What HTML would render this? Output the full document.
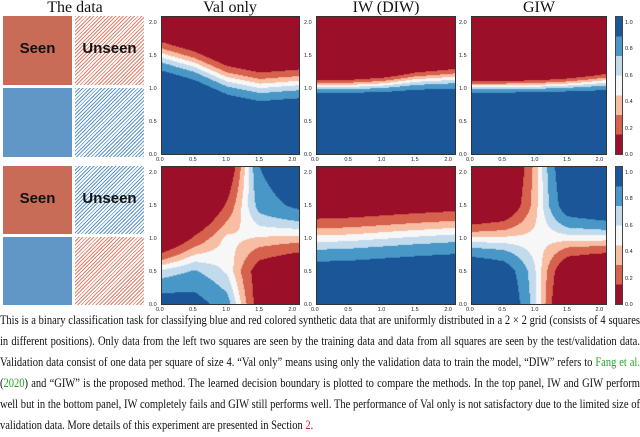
<!DOCTYPE html>
<html><head><meta charset="utf-8">
<style>
body{margin:0;width:640px;height:437px;background:#fff;position:relative;overflow:hidden;font-family:"Liberation Serif",serif}
.title{position:absolute;font-size:16px;line-height:16px;text-align:center;width:150px;top:0px;color:#111}
.sq{position:absolute;width:69px;height:69px;box-sizing:border-box}
.seen{background:#c96c57}
.bl{background:#6097c6}
.hr{background:repeating-linear-gradient(135deg,#e0806d 0 1px,#fff 1px 2.6px)}
.hb{background:repeating-linear-gradient(135deg,#5f96c8 0 1px,#fff 1px 2.6px)}
.lbl{position:absolute;width:100%;top:24px;text-align:center;font-family:"Liberation Sans",sans-serif;font-weight:bold;font-size:15px;color:#111}
canvas{position:absolute;border:1px solid #333;box-sizing:border-box}
.tk{position:absolute;font-family:"Liberation Sans",sans-serif;font-size:5.5px;color:#222;line-height:6px}
.cb{position:absolute;width:8px;border:1px solid #444;box-sizing:border-box}
#cap{position:absolute;left:0;top:310px;width:742px;font-size:12.2px;line-height:21px;text-align:justify;color:#111;transform:scaleX(0.8625);transform-origin:0 0}
.g{color:#2ca02c}.r{color:#d62728}
</style></head><body>
<div class="title" style="left:0">The data</div>
<div class="title" style="left:155px">Val only</div>
<div class="title" style="left:311px">IW (DIW)</div>
<div class="title" style="left:464px">GIW</div>

<div class="sq seen" style="left:3px;top:16px"><div class="lbl">Seen</div></div>
<div class="sq hr" style="left:75px;top:16px"><div class="lbl">Unseen</div></div>
<div class="sq bl" style="left:3px;top:88px"></div>
<div class="sq hb" style="left:75px;top:88px"></div>

<div class="sq seen" style="left:3px;top:166px;height:68px"><div class="lbl">Seen</div></div>
<div class="sq hb" style="left:75px;top:166px;height:68px"><div class="lbl">Unseen</div></div>
<div class="sq bl" style="left:3px;top:237px;height:68px"></div>
<div class="sq hr" style="left:75px;top:237px;height:68px"></div>

<div id="plots"></div>

<div id="cap">This is a binary classification task for classifying blue and red colored synthetic data that are uniformly distributed in a 2 × 2 grid (consists of 4 squares in different positions). Only data from the left two squares are seen by the training data and data from all squares are seen by the test/validation data. Validation data consist of one data per square of size 4. “Val only” means using only the validation data to train the model, “DIW” refers to <span class="g">Fang et al.</span> (<span class="g">2020</span>) and “GIW” is the proposed method. The learned decision boundary is plotted to compare the methods. In the top panel, IW and GIW perform well but in the bottom panel, IW completely fails and GIW still performs well. The performance of Val only is not satisfactory due to the limited size of validation data. More details of this experiment are presented in Section <span class="r">2</span>.</div>

<script>
// grid coordinates (data units)
const gridX = [0, 0.5, 1, 1.5, 2.1];
const gridY = [0, 0.5, 1, 1.5, 2.1];
// logit of P(blue); rows indexed by x, columns by y
const topVal = [[13.7,9.2,4.7,0.2,-5.2],[12.4,7.9,3.4,-1.1,-6.5],[10.4,5.9,1.4,-3.1,-8.6],[9.5,5.0,0.5,-4.0,-9.5],[9.9,5.4,0.9,-3.6,-9.0]];
const topIW = [[21,11,1,-9,-21],[21,11,1,-9,-21],[19.3,10.3,1.3,-7.7,-18.5],[17,9.5,2,-5.5,-14.5],[15.2,8.7,2.2,-4.3,-12.1]];
const topGIW = [[22.9,11.9,0.9,-10.1,-23.3],[22.9,11.9,0.9,-10.1,-23.3],[23.1,12.1,1.1,-9.9,-23.1],[21.4,11.4,1.4,-8.6,-20.6],[17.9,9.9,1.9,-6.1,-15.7]];
const botVal = [[3,0.6,-3.5,-6,-8],[2.8,1.2,-1.5,-4,-6],[1.5,0.3,0,-1.5,-3],[-2.5,-2.5,-0.3,1.5,2.2],[-4,-3.5,-0.5,2.5,4]];
const botIW = [[6.1,3.1,0.1,-2.9,-6.5],[6.2,3.2,0.2,-2.8,-6.4],[6.4,3.4,0.4,-2.6,-6.2],[6.6,3.6,0.6,-2.4,-6.0],[6.8,3.8,0.8,-2.2,-5.8]];
const botGIW = [[5,4,0,-4,-5],[4,3.2,0,-3.2,-4],[0.5,0.4,0,-0.4,-0.5],[-4,-3.2,0,3.2,4],[-5,-4,0,4,5]];
const levels = [0.15,0.3,0.45,0.6,0.75,0.9];
const colors = [[155,16,40],[214,98,78],[248,190,163],[247,247,247],[193,219,236],[72,151,199],[27,86,152]];
const tickVals = [0,0.5,1.0,1.5,2.0];
const tickLabels = ["0.0","0.5","1.0","1.5","2.0"];
const cbTicks = ["0.0","0.2","0.4","0.6","0.8","1.0"];
const cbVals = [0,0.2,0.4,0.6,0.8,1.0];
const axMax = 2.1;

const cols = [{l:161,w:139},{l:316,w:140},{l:471,w:136}];
const rows = [{t:16,h:139},{t:166,h:139}];
const panels = [
 {r:0,c:0,d:topVal,n:'top-val-only-contour'},{r:0,c:1,d:topIW,n:'top-iw-contour'},{r:0,c:2,d:topGIW,n:'top-giw-contour'},
 {r:1,c:0,d:botVal,n:'bottom-val-only-contour'},{r:1,c:1,d:botIW,n:'bottom-iw-contour'},{r:1,c:2,d:botGIW,n:'bottom-giw-contour'}];
const root = document.getElementById('plots');

function seg(arr,v){let i=0;while(i<arr.length-2&&v>arr[i+1])i++;return [i,(v-arr[i])/(arr[i+1]-arr[i])];}
function field(d,x,y){const [i,tx]=seg(gridX,x),[j,ty]=seg(gridY,y);
 return d[i][j]*(1-tx)*(1-ty)+d[i+1][j]*tx*(1-ty)+d[i][j+1]*(1-tx)*ty+d[i+1][j+1]*tx*ty;}
function band(p){let k=0;while(k<levels.length&&p>levels[k])k++;return k;}

panels.forEach(P=>{
 const C=cols[P.c],R=rows[P.r];
 const cv=document.createElement('canvas');
 
 
 cv.width=C.w;cv.height=R.h;cv.style.left=C.l+'px';cv.style.top=R.t+'px';
 cv.style.width=C.w+'px';cv.style.height=R.h+'px';
 const ctx=cv.getContext('2d'),img=ctx.createImageData(C.w,R.h);
 for(let py=0;py<R.h;py++)for(let px=0;px<C.w;px++){
  const x=(px+0.5)/C.w*axMax,y=(R.h-py-0.5)/R.h*axMax;
  const L=field(P.d,x,y),p=1/(1+Math.exp(-L));
  const col=colors[band(p)],o=(py*C.w+px)*4;
  img.data[o]=col[0];img.data[o+1]=col[1];img.data[o+2]=col[2];img.data[o+3]=255;}
 ctx.putImageData(img,0,0);
 root.appendChild(cv);
 tickVals.forEach((v,i)=>{
  const xl=document.createElement('div');
  
  
  xl.className='tk';xl.textContent=tickLabels[i];
  xl.style.left=(C.l+v/axMax*C.w-5)+'px';xl.style.top=(R.t+R.h+2)+'px';
  root.appendChild(xl);
  const yl=document.createElement('div');
  
  
  yl.className='tk';yl.textContent=tickLabels[i];
  yl.style.left=(C.l-12)+'px';yl.style.top=(R.t+R.h-v/axMax*R.h-3)+'px';
  root.appendChild(yl);
 });
});

rows.forEach((R,ri)=>{
 const cb=document.createElement('div');
 
 
 cb.className='cb';cb.style.left='615px';cb.style.top=R.t+'px';cb.style.height=R.h+'px';
 const stops=colors.map((c,i)=>`rgb(${c})`+` ${(i/7*100).toFixed(2)}% ${((i+1)/7*100).toFixed(2)}%`);
 cb.style.background='linear-gradient(to top,'+stops.join(',')+')';
 root.appendChild(cb);
 const cmax=1.05;
 cbVals.forEach((v,i)=>{
  const t=document.createElement('div');
  
  
  t.className='tk';t.textContent=cbTicks[i];
  t.style.left='625px';t.style.top=(R.t+R.h-v/cmax*R.h-3)+'px';
  root.appendChild(t);
 });
});
</script>
</body></html>
